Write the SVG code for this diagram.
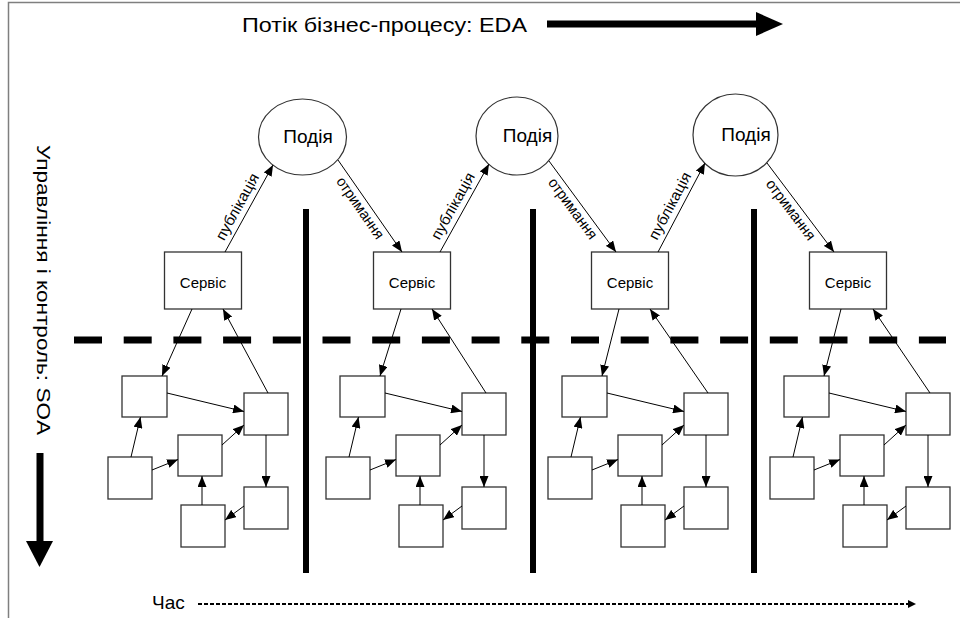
<svg xmlns="http://www.w3.org/2000/svg" width="960" height="618" viewBox="0 0 960 618">
<defs>
<marker id="ah" markerUnits="userSpaceOnUse" markerWidth="11" markerHeight="9" refX="11" refY="4.5" orient="auto"><path d="M0,0 L11,4.5 L0,9 z" fill="#000"/></marker>
<style>
text{font-family:"Liberation Sans",Arial,sans-serif;fill:#000}
.box{fill:#fff;stroke:#333;stroke-width:1.3}
.ev{fill:#fff;stroke:#333;stroke-width:1.2}
.c{stroke:#000;stroke-width:1;fill:none;marker-end:url(#ah)}
.lbl{font-size:15px;text-anchor:middle}
.svc{font-size:15px;text-anchor:middle}
.evt{font-size:19px;text-anchor:middle}
.thick{stroke:#000;stroke-width:6}
</style>
</defs>
<rect width="960" height="618" fill="#fff"/>
<path d="M8.5,618 L8.5,2.5 L960,2.5" fill="none" stroke="#7f7f7f" stroke-width="1.5"/>

<!-- title and axes -->
<text x="242" y="32" font-size="21" textLength="285" lengthAdjust="spacingAndGlyphs">Потік бізнес-процесу: EDA</text>
<line x1="547" y1="24" x2="758" y2="24" stroke="#000" stroke-width="7"/>
<polygon points="756,12 783,24 756,36" fill="#000"/>
<text transform="translate(37,145) rotate(90)" font-size="19" textLength="290" lengthAdjust="spacingAndGlyphs">Управління і контроль: SOA</text>
<line x1="40" y1="453" x2="40" y2="543" stroke="#000" stroke-width="7"/>
<polygon points="26,541 53,541 39.5,567" fill="#000"/>
<text x="152" y="609" font-size="19">Час</text>
<line x1="198" y1="604" x2="909" y2="604" stroke="#000" stroke-width="2" stroke-dasharray="4,2"/>
<polygon points="908,600 916,604 908,608" fill="#000"/>

<!-- separators -->
<line x1="74" y1="340" x2="946" y2="340" stroke="#000" stroke-width="7" stroke-dasharray="28,21.7"/>
<line class="thick" x1="306" y1="209" x2="306" y2="573"/>
<line class="thick" x1="533" y1="209" x2="533" y2="573"/>
<line class="thick" x1="754" y1="209" x2="754" y2="573"/>

<!-- events -->
<g id="event1"><ellipse class="ev" cx="302.5" cy="137" rx="44" ry="38"/><text class="evt" x="308" y="143">Подія</text></g>
<g id="event2"><ellipse class="ev" cx="517" cy="136" rx="41" ry="39"/><text class="evt" x="527.5" y="142">Подія</text></g>
<g id="event3"><ellipse class="ev" cx="735.5" cy="135" rx="42.5" ry="41"/><text class="evt" x="746" y="141">Подія</text></g>

<!-- services -->
<g id="service1"><rect class="box" x="164.5" y="252" width="77" height="57"/><text class="svc" x="203" y="288">Сервіс</text></g>
<g id="service2"><rect class="box" x="373.5" y="252" width="77" height="57"/><text class="svc" x="412" y="288">Сервіс</text></g>
<g id="service3"><rect class="box" x="591.5" y="252" width="77" height="57"/><text class="svc" x="630" y="288">Сервіс</text></g>
<g id="service4"><rect class="box" x="809.5" y="252" width="77" height="57"/><text class="svc" x="848" y="288">Сервіс</text></g>

<!-- component clusters -->
<g id="cluster1">
<g id="c1a"><rect class="box" x="122" y="376" width="45" height="41"/></g>
<g id="c1b"><rect class="box" x="244" y="393" width="44" height="42"/></g>
<g id="c1c"><rect class="box" x="178" y="435" width="44" height="41"/></g>
<g id="c1d"><rect class="box" x="108" y="457" width="44" height="42"/></g>
<g id="c1e"><rect class="box" x="244" y="487" width="44" height="42"/></g>
<g id="c1f"><rect class="box" x="181" y="505" width="44" height="42"/></g>
</g>
<g id="cluster2" transform="translate(218,0)">
<g id="c2a"><rect class="box" x="122" y="376" width="45" height="41"/></g>
<g id="c2b"><rect class="box" x="244" y="393" width="44" height="42"/></g>
<g id="c2c"><rect class="box" x="178" y="435" width="44" height="41"/></g>
<g id="c2d"><rect class="box" x="108" y="457" width="44" height="42"/></g>
<g id="c2e"><rect class="box" x="244" y="487" width="44" height="42"/></g>
<g id="c2f"><rect class="box" x="181" y="505" width="44" height="42"/></g>
</g>
<g id="cluster3" transform="translate(440,0)">
<g id="c3a"><rect class="box" x="122" y="376" width="45" height="41"/></g>
<g id="c3b"><rect class="box" x="244" y="393" width="44" height="42"/></g>
<g id="c3c"><rect class="box" x="178" y="435" width="44" height="41"/></g>
<g id="c3d"><rect class="box" x="108" y="457" width="44" height="42"/></g>
<g id="c3e"><rect class="box" x="244" y="487" width="44" height="42"/></g>
<g id="c3f"><rect class="box" x="181" y="505" width="44" height="42"/></g>
</g>
<g id="cluster4" transform="translate(662,0)">
<g id="c4a"><rect class="box" x="122" y="376" width="45" height="41"/></g>
<g id="c4b"><rect class="box" x="244" y="393" width="44" height="42"/></g>
<g id="c4c"><rect class="box" x="178" y="435" width="44" height="41"/></g>
<g id="c4d"><rect class="box" x="108" y="457" width="44" height="42"/></g>
<g id="c4e"><rect class="box" x="244" y="487" width="44" height="42"/></g>
<g id="c4f"><rect class="box" x="181" y="505" width="44" height="42"/></g>
</g>

<!-- connectors -->
<g id="connectors">
<line class="c" x1="225" y1="252" x2="273" y2="165"/>
<line class="c" x1="338" y1="160" x2="402" y2="252"/>
<line class="c" x1="440" y1="252" x2="489" y2="164"/>
<line class="c" x1="549" y1="161" x2="616" y2="252"/>
<line class="c" x1="658" y1="252" x2="705" y2="163"/>
<line class="c" x1="767" y1="163" x2="834" y2="252"/>
<text class="lbl" transform="translate(237.4,206.7) rotate(-61.1)" y="5" textLength="74" lengthAdjust="spacingAndGlyphs">публікація</text>
<text class="lbl" transform="translate(452.9,206.1) rotate(-60.9)" y="5" textLength="74" lengthAdjust="spacingAndGlyphs">публікація</text>
<text class="lbl" transform="translate(669.9,205.9) rotate(-62.2)" y="5" textLength="74" lengthAdjust="spacingAndGlyphs">публікація</text>
<text class="lbl" transform="translate(360.3,207.9) rotate(55.2)" y="5" textLength="72" lengthAdjust="spacingAndGlyphs">отримання</text>
<text class="lbl" transform="translate(572.9,208.6) rotate(53.6)" y="5" textLength="72" lengthAdjust="spacingAndGlyphs">отримання</text>
<text class="lbl" transform="translate(790.9,209.7) rotate(53)" y="5" textLength="72" lengthAdjust="spacingAndGlyphs">отримання</text>

<line class="c" x1="192" y1="309" x2="162" y2="376"/>
<line class="c" x1="268" y1="393" x2="223" y2="309"/>
<line class="c" x1="401" y1="309" x2="380" y2="376"/>
<line class="c" x1="486" y1="393" x2="432" y2="309"/>
<line class="c" x1="619" y1="309" x2="602" y2="376"/>
<line class="c" x1="708" y1="393" x2="650" y2="309"/>
<line class="c" x1="841" y1="309" x2="824" y2="376"/>
<line class="c" x1="930" y1="393" x2="873" y2="309"/>

<g id="links1">
<line class="c" x1="167" y1="393" x2="244" y2="411.5"/>
<line class="c" x1="131" y1="457" x2="140.5" y2="417"/>
<line class="c" x1="152" y1="470" x2="178" y2="459.5"/>
<line class="c" x1="222" y1="445" x2="244" y2="425"/>
<line class="c" x1="266" y1="435" x2="266" y2="487"/>
<line class="c" x1="202" y1="505" x2="202" y2="476"/>
<line class="c" x1="244" y1="506" x2="225" y2="520"/>
</g>
<g id="links2" transform="translate(218,0)">
<line class="c" x1="167" y1="393" x2="244" y2="411.5"/>
<line class="c" x1="131" y1="457" x2="140.5" y2="417"/>
<line class="c" x1="152" y1="470" x2="178" y2="459.5"/>
<line class="c" x1="222" y1="445" x2="244" y2="425"/>
<line class="c" x1="266" y1="435" x2="266" y2="487"/>
<line class="c" x1="202" y1="505" x2="202" y2="476"/>
<line class="c" x1="244" y1="506" x2="225" y2="520"/>
</g>
<g id="links3" transform="translate(440,0)">
<line class="c" x1="167" y1="393" x2="244" y2="411.5"/>
<line class="c" x1="131" y1="457" x2="140.5" y2="417"/>
<line class="c" x1="152" y1="470" x2="178" y2="459.5"/>
<line class="c" x1="222" y1="445" x2="244" y2="425"/>
<line class="c" x1="266" y1="435" x2="266" y2="487"/>
<line class="c" x1="202" y1="505" x2="202" y2="476"/>
<line class="c" x1="244" y1="506" x2="225" y2="520"/>
</g>
<g id="links4" transform="translate(662,0)">
<line class="c" x1="167" y1="393" x2="244" y2="411.5"/>
<line class="c" x1="131" y1="457" x2="140.5" y2="417"/>
<line class="c" x1="152" y1="470" x2="178" y2="459.5"/>
<line class="c" x1="222" y1="445" x2="244" y2="425"/>
<line class="c" x1="266" y1="435" x2="266" y2="487"/>
<line class="c" x1="202" y1="505" x2="202" y2="476"/>
<line class="c" x1="244" y1="506" x2="225" y2="520"/>
</g>
</g>
</svg>
